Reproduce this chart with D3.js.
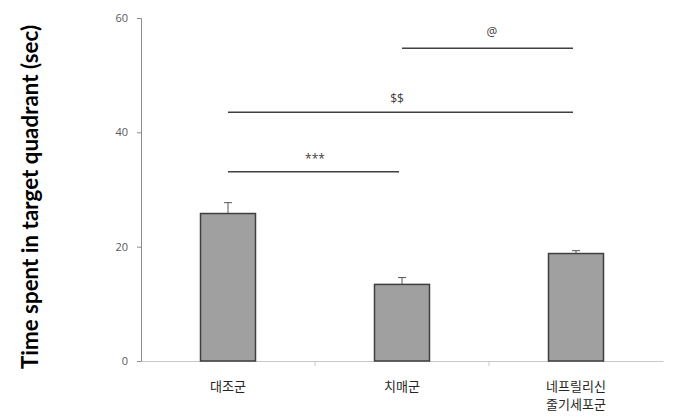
<!DOCTYPE html>
<html><head><meta charset="utf-8">
<script src="https://cdn.jsdelivr.net/npm/d3@7"></script>
<style>body{margin:0;background:#fff}</style>
</head><body>
<svg id="c" width="680" height="420"></svg>
<script>
const categories = ["대조군", "치매군", "네프릴리신\n줄기세포군"];
const values = [25.8, 13.4, 18.8];
const errors = [1.9, 1.2, 0.5];
const yTicks = [0, 20, 40, 60];
const sigLabels = ["***", "$$", "@"];
const sigLevels = [33.1, 43.5, 54.7];
const sigPairs = [[0, 1], [0, 2], [1, 2]];

const svg = d3.select("#c");
const x0 = 141, x1 = 663, yTop = 18, yBot = 361;
const x = d3.scaleBand().domain(categories).range([x0, x1]).paddingInner(0).paddingOuter(0);
const y = d3.scaleLinear().domain([0, 60]).range([yBot, yTop]);
const barW = 55;

// y axis
const ya = svg.append("g").attr("transform", `translate(${x0},0)`)
  .call(d3.axisLeft(y).tickValues(yTicks).tickSize(4).tickPadding(9));
ya.select(".domain").attr("stroke", "#8c8c8c");
ya.selectAll(".tick line").attr("stroke", "#8c8c8c");
ya.selectAll("text").attr("fill", "#595959").style("font-family", "'Open Sans', sans-serif").style("font-size", "11px");

// x axis
const xa = svg.append("g").attr("transform", `translate(0,${yBot})`)
  .call(d3.axisBottom(x).tickSize(0).tickFormat(""));
xa.select(".domain").attr("stroke", "#c8c8c8");
xa.selectAll(".tick").remove();
svg.append("g").selectAll("line").data(categories.slice(1)).join("line")
  .attr("x1", d => x(d)).attr("x2", d => x(d))
  .attr("y1", yBot).attr("y2", yBot + 5).attr("stroke", "#c8c8c8");

// bars
svg.append("g").selectAll("rect").data(values).join("rect")
  .attr("x", (d, i) => x(categories[i]) + x.bandwidth() / 2 - barW / 2)
  .attr("y", d => y(d)).attr("width", barW).attr("height", d => yBot - y(d))
  .attr("fill", "#a0a0a0").attr("stroke", "#3f3f3f").attr("stroke-width", 1.5);

// error bars
const eg = svg.append("g").attr("stroke", "#555").attr("stroke-width", 1);
values.forEach((v, i) => {
  const cx = x(categories[i]) + x.bandwidth() / 2;
  eg.append("line").attr("x1", cx).attr("x2", cx).attr("y1", y(v)).attr("y2", y(v + errors[i]));
  eg.append("line").attr("x1", cx - 4).attr("x2", cx + 4).attr("y1", y(v + errors[i])).attr("y2", y(v + errors[i]));
});

// x labels
categories.forEach((c, i) => {
  const cx = x(c) + x.bandwidth() / 2;
  const t = svg.append("text").attr("x", cx).attr("y", 391).attr("text-anchor", "middle")
    .attr("fill", "#262626").style("font-family", "'Noto Sans CJK KR', sans-serif").style("font-size", "13px");
  c.split("\n").forEach((s, k) => t.append("tspan").attr("x", cx).attr("dy", k === 0 ? 0 : 18).text(s));
});

// significance lines
sigPairs.forEach((p, i) => {
  const xa_ = x(categories[p[0]]) + x.bandwidth() / 2;
  const xb_ = x(categories[p[1]]) + x.bandwidth() / 2;
  svg.append("line").attr("x1", xa_).attr("x2", xb_ - 3).attr("y1", y(sigLevels[i])).attr("y2", y(sigLevels[i]))
    .attr("stroke", "#404040").attr("stroke-width", 1.5);
  svg.append("text").attr("x", (xa_ + xb_) / 2 + (i === 1 ? -5 : i === 2 ? 3 : 0)).attr("y", y(sigLevels[i]) - (i === 2 ? 12 : 9))
    .attr("text-anchor", "middle").attr("fill", "#404040")
    .style("font-family", "'Open Sans', sans-serif").style("font-size", "12px").text(sigLabels[i]);
});

// y title
svg.append("text").attr("transform", `translate(38,197) rotate(-90)`)
  .attr("text-anchor", "middle").attr("fill", "#000")
  .style("font-family", "Lato, sans-serif").style("font-weight", "700").style("font-size", "22.4px")
  .text("Time spent in target quadrant (sec)");
</script>
</body></html>
